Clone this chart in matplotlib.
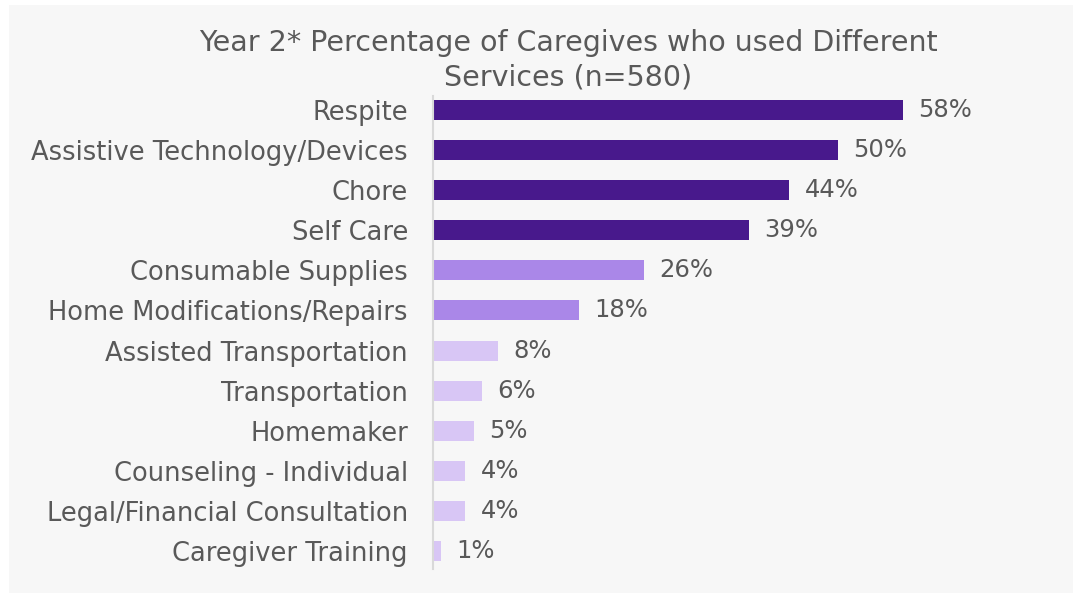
import matplotlib
matplotlib.use("Agg")
import matplotlib.pyplot as plt
from matplotlib.patches import Rectangle

plt.rcParams["font.family"] = ["DejaVu Sans"]

services = [
    "Respite",
    "Assistive Technology/Devices",
    "Chore",
    "Self Care",
    "Consumable Supplies",
    "Home Modifications/Repairs",
    "Assisted Transportation",
    "Transportation",
    "Homemaker",
    "Counseling - Individual",
    "Legal/Financial Consultation",
    "Caregiver Training",
]
percent_used = [58, 50, 44, 39, 26, 18, 8, 6, 5, 4, 4, 1]
tiers = ["high", "high", "high", "high", "mid", "mid",
         "low", "low", "low", "low", "low", "low"]
tier_colors = {"high": "#48198C", "mid": "#AA87E8", "low": "#D8C6F5"}

title = "Year 2* Percentage of Caregives who used Different\nServices (n=580)"

TEXT = "#595959"
W, H = 1073, 594

fig = plt.figure(figsize=(W / 100, H / 100), dpi=100, facecolor="white")
# light grey panel behind the chart
fig.patches.append(Rectangle((9 / W, 1 / H), 1 - 9 / W, 588 / H,
                             transform=fig.transFigure, facecolor="#F7F7F7",
                             edgecolor="none", zorder=-5))

ax = fig.add_axes([433 / W, (H - 569) / H, 615.6 / W, 473 / H])
ax.set_facecolor("none")
ax.set_zorder(2)

y = list(range(len(services)))
ax.barh(y, percent_used, height=0.5,
        color=[tier_colors[t] for t in tiers], zorder=2)

for yi, v in zip(y, percent_used):
    ax.annotate(f"{v}%", xy=(v, yi), xytext=(11, 0), textcoords="offset points",
                ha="left", va="center", fontsize=17.5, color=TEXT)

ax.set_xlim(0, 76)
ax.set_ylim(11.45, -0.35)
ax.set_yticks(y)
ax.set_yticklabels(services, fontsize=18.5, color=TEXT)
ax.tick_params(axis="y", length=0, pad=18)
ax.set_xticks([])
for side in ["top", "right", "bottom"]:
    ax.spines[side].set_visible(False)
ax.spines["left"].set_color("#D9D9D9")
ax.spines["left"].set_linewidth(1.5)

fig.text(568 / W, 1 - 60 / H, title, ha="center", va="center",
         fontsize=20.5, color=TEXT, linespacing=1.3)

fig.savefig("out.png", dpi=100, facecolor="white")
